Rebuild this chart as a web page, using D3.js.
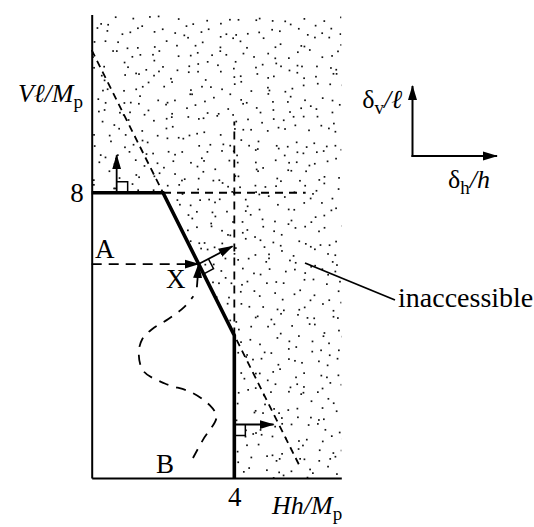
<!DOCTYPE html>
<html><head><meta charset="utf-8">
<script src="https://cdn.jsdelivr.net/npm/d3@7"></script>
<style>
html,body{margin:0;padding:0;background:#fff;}
svg{display:block;}
text{font-family:"Liberation Serif","Times New Roman",serif;fill:#000;}
</style></head>
<body>
<svg id="chart" width="534" height="527"></svg>
<script>
// ---------- data ----------
const xDomain = [0, 7];
const yDomain = [0, 13];
const xTicks = [4];
const yTicks = [8];
// boundary of the accessible (safe) region: beam, combined, sway mechanisms
const boundary = [[0, 8], [2, 8], [4, 4], [4, 0]];
const feasibleRegion = [[0, 0], [0, 8], [2, 8], [4, 4], [4, 0]];
// dashed extensions of the three mechanism lines
const combinedExt = [[0, 12], [5.85, 0.3]];
const beamExt = [[2, 8], [6, 8]];
const swayExt = [[4, 4], [4, 10]];
// load paths
const pointX = [3, 6];
const pathA = [[0, 6], [3, 6]];
const pathB = [[2.84, 0.56], [3.12, 1.07], [3.5, 1.72], [3.3, 2.05], [2.8, 2.4], [2.05, 2.65],
               [1.45, 3.0], [1.32, 3.5], [1.42, 3.9], [1.7, 4.18], [2.15, 4.46], [2.6, 4.8], [2.85, 5.1]];
const pathBEnd = [[2.95, 5.35], [3, 6]];
// normality arrows (plastic flow directions)
const flowArrows = [
  {from: [0.7, 8], to: [0.7, 9.05], corner: "up"},
  {from: [4, 1.5], to: [5.1, 1.5], corner: "right"},
  {from: [3, 6], to: [3.95, 6.5], corner: "normal"}
];

// ---------- layout ----------
const svg = d3.select("#chart");
const x = d3.scaleLinear().domain(xDomain).range([91.7, 341.3]);
const y = d3.scaleLinear().domain(yDomain).range([478, 14.5]);
const px = p => [x(p[0]), y(p[1])];

const defs = svg.append("defs");
defs.append("marker").attr("id", "ah").attr("viewBox", "0 -5 15 10")
  .attr("markerUnits", "userSpaceOnUse").attr("markerWidth", 15).attr("markerHeight", 10)
  .attr("refX", 14).attr("refY", 0).attr("orient", "auto")
  .append("path").attr("d", "M0,-4.5L15,0L0,4.5Z").attr("fill", "#000");

// clip for stipple: whole chart rect minus accessible region
const outer = [[0, 0], [7, 0], [7, 13], [0, 13]];
const poly = pts => "M" + pts.map(p => px(p).join(",")).join("L") + "Z";
defs.append("clipPath").attr("id", "inacc")
  .append("path").attr("clip-rule", "evenodd")
  .attr("d", poly(outer) + poly(feasibleRegion));

// stipple texture (deterministic hash jitter, decoration only)
const hash = (i, j, k) => {
  const s = Math.sin(i * 127.1 + j * 311.7 + k * 74.7) * 43758.5453;
  return s - Math.floor(s);
};
const cell = 11;
const dots = [];
for (let gx = x(0); gx < x(7); gx += cell) {
  for (let gy = y(13); gy < y(0); gy += cell) {
    const i = Math.round(gx), j = Math.round(gy);
    dots.push([gx + hash(i, j, 1) * cell, gy + hash(i, j, 2) * cell]);
  }
}
svg.append("g").attr("clip-path", "url(#inacc)")
  .selectAll("rect").data(dots).join("rect")
  .attr("x", d => d[0]).attr("y", d => d[1])
  .attr("width", 1.7).attr("height", 1.7).attr("fill", "#111");

// axes
const xAxis = d3.axisBottom(x).tickValues(xTicks).tickSize(0).tickPadding(9).tickFormat(d3.format("d"));
const yAxis = d3.axisLeft(y).tickValues(yTicks).tickSize(0).tickPadding(8).tickFormat(d3.format("d"));
const gx = svg.append("g").attr("transform", `translate(0,${y(0)})`).call(xAxis);
const gy = svg.append("g").attr("transform", `translate(${x(0)},0)`).call(yAxis);
[gx, gy].forEach(g => {
  g.select(".domain").attr("stroke", "#000").attr("stroke-width", 2);
  g.selectAll("text").attr("font-family", "Liberation Serif").attr("font-size", 27).attr("fill", "#000");
});
gx.selectAll("text").attr("dy", "0.71em");
gy.selectAll("text").attr("dy", "0.33em");

const line = d3.line().x(d => x(d[0])).y(d => y(d[1]));

// dashed extensions
svg.append("path").attr("d", line(combinedExt)).attr("fill", "none")
  .attr("stroke", "#000").attr("stroke-width", 1.8).attr("stroke-dasharray", "7,5");
[beamExt, swayExt].forEach(seg => {
  svg.append("path").attr("d", line(seg)).attr("fill", "none")
    .attr("stroke", "#000").attr("stroke-width", 1.8).attr("stroke-dasharray", "8,6");
});

// boundary
svg.append("path").attr("d", line(boundary)).attr("fill", "none")
  .attr("stroke", "#000").attr("stroke-width", 3.6).attr("stroke-linejoin", "miter");

// load path A -> X
svg.append("path").attr("d", line(pathA)).attr("fill", "none")
  .attr("stroke", "#000").attr("stroke-width", 1.8).attr("stroke-dasharray", "10,7")
  .attr("marker-end", "url(#ah)");

// load path B -> X
svg.append("path").attr("d", d3.line().curve(d3.curveCatmullRom).x(d => x(d[0])).y(d => y(d[1]))(pathB))
  .attr("fill", "none").attr("stroke", "#000").attr("stroke-width", 1.8).attr("stroke-dasharray", "10,8");
svg.append("path").attr("d", line(pathBEnd)).attr("fill", "none")
  .attr("stroke", "#000").attr("stroke-width", 1.8).attr("marker-end", "url(#ah)");

// flow arrows + right-angle marks
const s = 11;
flowArrows.forEach(a => {
  svg.append("path").attr("d", line([a.from, a.to])).attr("fill", "none")
    .attr("stroke", "#000").attr("stroke-width", 1.8).attr("marker-end", "url(#ah)");
  const [ox, oy] = px(a.from);
  let u, n;
  if (a.corner === "up") { u = [1, 0]; n = [0, -1]; }
  else if (a.corner === "right") { u = [0, 1]; n = [1, 0]; }
  else {
    const [tx, ty] = px(a.to);
    const L = Math.hypot(tx - ox, ty - oy);
    n = [(tx - ox) / L, (ty - oy) / L];
    u = [-n[1], n[0]];
    if (u[1] < 0) u = [-u[0], -u[1]];
  }
  const p1 = [ox + u[0] * s, oy + u[1] * s];
  const p2 = [p1[0] + n[0] * s, p1[1] + n[1] * s];
  const p3 = [ox + n[0] * s, oy + n[1] * s];
  svg.append("path").attr("d", `M${p1}L${p2}L${p3}`).attr("fill", "none")
    .attr("stroke", "#000").attr("stroke-width", 1.5);
});

// point labels
const lab = (t, xx, yy, size, anchor) => svg.append("text").attr("x", xx).attr("y", yy)
  .attr("font-size", size).attr("text-anchor", anchor || "start").text(t);
lab("A", 95, 258, 27);
lab("X", 166, 288, 27);
lab("B", 156, 473, 27);

// inaccessible label
svg.append("line").attr("x1", 305).attr("y1", 263).attr("x2", 395).attr("y2", 300)
  .attr("stroke", "#000").attr("stroke-width", 1.8);
lab("inaccessible", 398, 307, 28);

// axis titles
const yt = svg.append("text").attr("x", 83).attr("y", 102).attr("text-anchor", "end").attr("font-size", 26);
yt.append("tspan").attr("font-style", "italic").text("V\u2113/M");
yt.append("tspan").attr("font-size", 19).attr("dy", 6).text("p");

const xt = svg.append("text").attr("x", 272).attr("y", 514).attr("font-size", 26);
xt.append("tspan").attr("font-style", "italic").text("Hh/M");
xt.append("tspan").attr("font-size", 19).attr("dy", 6).text("p");

// displacement direction inset
const cx0 = 412.5, cy0 = 156;
svg.append("line").attr("x1", cx0).attr("y1", cy0 + 1).attr("x2", cx0).attr("y2", 86)
  .attr("stroke", "#000").attr("stroke-width", 2).attr("marker-end", "url(#ah)");
svg.append("line").attr("x1", cx0 - 1).attr("y1", cy0).attr("x2", 497).attr("y2", cy0)
  .attr("stroke", "#000").attr("stroke-width", 2).attr("marker-end", "url(#ah)");

const dv = svg.append("text").attr("x", 402).attr("y", 108).attr("text-anchor", "end").attr("font-size", 26);
dv.append("tspan").text("\u03B4");
dv.append("tspan").attr("font-size", 19).attr("dy", 6).text("v");
dv.append("tspan").attr("dy", -6).attr("font-style", "italic").text("/\u2113");

const dh = svg.append("text").attr("x", 448).attr("y", 188).attr("font-size", 26);
dh.append("tspan").text("\u03B4");
dh.append("tspan").attr("font-size", 19).attr("dy", 6).text("h");
dh.append("tspan").attr("dy", -6).attr("font-style", "italic").text("/h");
</script>
</body></html>
